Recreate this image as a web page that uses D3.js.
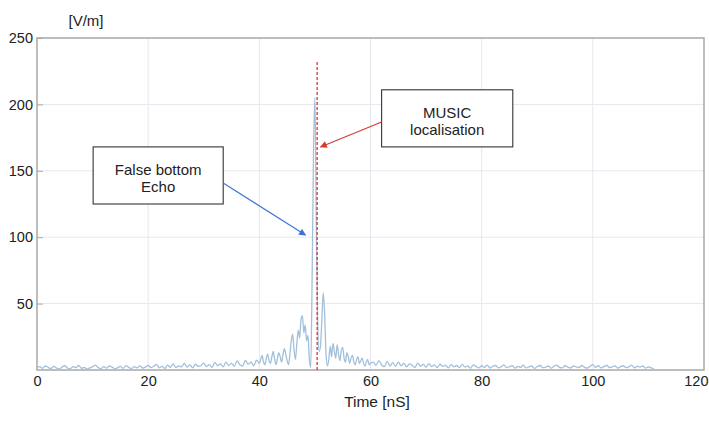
<!DOCTYPE html>
<html>
<head>
<meta charset="utf-8">
<script src="https://cdn.jsdelivr.net/npm/d3@7"></script>
<style>
  body { margin:0; background:#fff; }
  text { font-family: "Liberation Sans", Arial, sans-serif; fill:#222; }
</style>
</head>
<body>
<div id="chart"></div>
<script>

// ticks
var xTicks = [0, 20, 40, 60, 80, 100, 120];
var yTicks = [50, 100, 150, 200, 250];

// field strength [V/m], 0 - 39.5 nS every 0.5 nS
var ampA = [1.5,2.5,1.2,3.0,2.0,1.0,2.8,1.5,0.8,2.2, 3.2,1.4,0.9,2.6,1.8,3.4,1.2,2.0,0.8,1.6,
            2.4,3.6,1.8,1.0,2.6,1.4,3.0,2.2,0.9,1.7, 2.8,1.2,3.3,2.0,1.1,2.5,1.6,3.1,1.4,2.2,
            3.5,1.8,2.6,4.2,1.6,2.8,1.2,3.6,2.0,4.5, 1.8,3.0,2.4,5.0,2.2,3.8,1.6,4.4,2.8,3.4,
            5.2,2.6,4.0,2.0,5.8,3.2,4.6,2.4,6.0,3.4, 5.0,2.8,6.8,4.0,3.0,7.2,4.4,6.0,3.2,7.5];
// 40 - 60 nS every 0.25 nS (echo region)
var ampB = [5,8,11,6,4,9,12,7,5,10,14,8,
            4,9,13,10,6,11,16,12,7,4,12,22,
            27,15,8,20,30,24,38,41,28,34,22,26,
            8,2,70,165,205,110,35,14,18,38,58,42,
            12,3,8,18,10,20,14,9,19,12,7,15,
            17,9,6,13,10,5,9,11,6,4,8,10,
            5,7,9,5,3,6,8,4,5];
// 60.5 - 111 nS every 0.5 nS
var ampC = [6,3.5,7,4,2.5,6.5,3,5.5,2.8,6,
            3.2,5,2.4,4.6,3.6,2,5.2,3,4.2,2.2,
            4.8,2.6,3.8,1.8,4.4,2.8,3.6,1.6,4.0,2.4,
            3.4,1.8,4.2,2.2,3.0,1.4,3.8,2.6,1.6,3.2,
            2.0,3.6,1.5,2.8,3.4,1.6,2.4,3.8,1.8,2.6,
            3.2,1.4,2.8,2.0,3.6,1.6,2.4,3.0,1.2,2.6,
            3.4,1.8,2.2,3.0,1.4,2.8,3.6,2.0,1.6,3.2,
            2.2,1.5,3.0,2.4,1.8,3.4,2.0,1.4,2.8,4.0,
            2.0,3.2,1.6,2.6,3.4,1.8,2.4,3.0,1.4,2.6,
            3.2,1.8,2.4,3.6,1.6,2.8,2.2,3.0,1.4,2.4,
            1.6,0.8];

// MUSIC estimate
var musicT = 50.4, musicTop = 233;

// annotations (data coords)
var notes = [
  {lines:["False bottom","Echo"], x0:10.1, x1:33.5, y0:168, y1:125,
   from:[33.5,140.8], to:[48.3,101.6], color:"#3b74d4", id:"blueHead"},
  {lines:["MUSIC","localisation"], x0:62.0, x1:85.6, y0:211, y1:168,
   from:[62.0,186.7], to:[51.0,168], color:"#d23b30", id:"redHead"}
];

// build series
var series = [];
ampA.forEach(function(v,i){ series.push([i*0.5, v]); });
ampB.forEach(function(v,i){ series.push([40 + i*0.25, v]); });
ampC.forEach(function(v,i){ series.push([60.5 + i*0.5, v]); });

var width = 709, height = 427;
var margin = {left:37, right:5, top:38, bottom:57};

var x = d3.scaleLinear().domain([0,120]).range([margin.left, width-margin.right]);
var y = d3.scaleLinear().domain([0,250]).range([height-margin.bottom, margin.top]);

var svg = d3.select("#chart").append("svg")
    .attr("width", width)
    .attr("height", height);

var defs = svg.append("defs");
notes.forEach(function(n){
  defs.append("marker")
    .attr("id", n.id)
    .attr("viewBox", "0 0 10 10")
    .attr("refX", 9).attr("refY", 5)
    .attr("markerWidth", 9).attr("markerHeight", 7)
    .attr("markerUnits", "userSpaceOnUse")
    .attr("orient", "auto")
    .append("path")
    .attr("d", "M0,0L10,5L0,10z")
    .attr("fill", n.color);
});

// grid
svg.append("g").selectAll("line").data(xTicks.slice(1,-1)).enter().append("line")
    .attr("x1", function(d){return x(d);}).attr("x2", function(d){return x(d);})
    .attr("y1", y(0)).attr("y2", y(250))
    .attr("stroke", "#e4e8ee").attr("stroke-width", 1);
svg.append("g").selectAll("line").data(yTicks.slice(0,-1)).enter().append("line")
    .attr("x1", x(0)).attr("x2", x(120))
    .attr("y1", function(d){return y(d);}).attr("y2", function(d){return y(d);})
    .attr("stroke", "#e4e8ee").attr("stroke-width", 1);

// axes
var xAxis = svg.append("g")
    .attr("transform", "translate(0," + y(0) + ")")
    .call(d3.axisBottom(x).tickValues(xTicks).tickSize(0).tickPadding(6));
var yAxis = svg.append("g")
    .attr("transform", "translate(" + x(0) + ",0)")
    .call(d3.axisLeft(y).tickValues(yTicks).tickSize(-6).tickPadding(4));
[xAxis, yAxis].forEach(function(a){
  a.select(".domain").remove();
  a.selectAll("text").attr("font-size", "14.5px").attr("fill", "#222")
    .style("font-family", "'Liberation Sans', Arial, sans-serif");
  a.selectAll("line").attr("stroke", "#aaa");
});
// keep "120" inside the picture
xAxis.selectAll(".tick text").filter(function(d){return d === 120;})
    .attr("text-anchor", "end").attr("dx", "4px");

// frame
svg.append("rect")
    .attr("x", x(0)).attr("y", y(250))
    .attr("width", x(120)-x(0)).attr("height", y(0)-y(250))
    .attr("fill", "none").attr("stroke", "#a8a8a8").attr("stroke-width", 1.5);

// signal
var line = d3.line()
    .x(function(d){return x(d[0]);})
    .y(function(d){return y(d[1]);})
    .curve(d3.curveMonotoneX);
svg.append("path").datum(series)
    .attr("d", line)
    .attr("fill", "none")
    .attr("stroke", "#a3c0da")
    .attr("stroke-width", 1.3)
    .attr("stroke-linejoin", "round");

// MUSIC line
svg.append("line")
    .attr("x1", x(musicT)).attr("x2", x(musicT))
    .attr("y1", y(0)).attr("y2", y(musicTop))
    .attr("stroke", "#d23b30").attr("stroke-width", 1.3)
    .attr("stroke-dasharray", "3,2");

// labels
svg.append("text").text("[V/m]")
    .attr("x", 86).attr("y", 26)
    .attr("text-anchor", "middle").attr("font-size", "15px");
svg.append("text").text("Time [nS]")
    .attr("x", 377).attr("y", 407)
    .attr("text-anchor", "middle").attr("font-size", "15.5px");

// annotation boxes
var ann = svg.append("g").selectAll("g").data(notes).enter().append("g");
ann.append("rect")
    .attr("x", function(d){return x(d.x0);})
    .attr("y", function(d){return y(d.y0);})
    .attr("width", function(d){return x(d.x1)-x(d.x0);})
    .attr("height", function(d){return y(d.y1)-y(d.y0);})
    .attr("fill", "#fff").attr("stroke", "#333").attr("stroke-width", 1.1);
ann.each(function(d){
  var cx = (x(d.x0)+x(d.x1))/2, cy = (y(d.y0)+y(d.y1))/2;
  d3.select(this).selectAll("text").data(d.lines).enter().append("text")
    .text(function(t){return t;})
    .attr("x", cx)
    .attr("y", function(t,i){return cy + i*17;})
    .attr("text-anchor", "middle")
    .attr("font-size", "15px");
});
ann.append("line")
    .attr("x1", function(d){return x(d.from[0]);})
    .attr("y1", function(d){return y(d.from[1]);})
    .attr("x2", function(d){return x(d.to[0]);})
    .attr("y2", function(d){return y(d.to[1]);})
    .attr("stroke", function(d){return d.color;})
    .attr("stroke-width", 1.1)
    .attr("marker-end", function(d){return "url(#" + d.id + ")";});

</script>
</body>
</html>
